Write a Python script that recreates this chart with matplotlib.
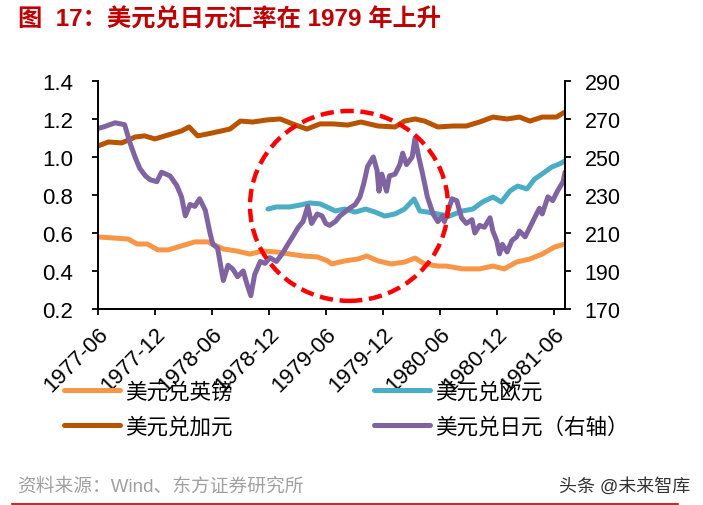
import matplotlib
matplotlib.use("Agg")
import matplotlib.pyplot as plt
from matplotlib.patches import Ellipse
from matplotlib.lines import Line2D

plt.rcParams["font.family"] = ["Liberation Sans", "Noto Sans CJK SC", "DejaVu Sans"]

# -----------------------------------------------------
# Data (x = months after 1977-06)
# -----------------------------------------------------

tick_labels = ["1977-06", "1977-12", "1978-06", "1978-12", "1979-06",
               "1979-12", "1980-06", "1980-12", "1981-06"]

# USD/JPY (right axis)
jpy_m = [0, 0.7, 1.8, 2.8, 3.4, 3.9, 4.4, 5.0, 5.5, 6.2,
         6.7, 7.6, 8.3, 8.8, 9.2, 9.7, 10.2, 10.7, 11.3, 11.8,
         12.1, 12.6, 13.2, 13.7, 14.2, 14.7, 15.3, 15.7, 16.1, 16.5,
         17.1, 17.6, 18.1, 18.8, 19.4, 20.0, 20.5, 21.1, 21.6, 22.1,
         22.5, 23.1, 23.6, 24.0, 24.4, 25.0, 25.5, 26.0, 26.5, 27.1,
         27.6, 28.0, 28.4, 29.0, 29.4, 29.6, 29.9, 30.4, 30.7, 31.3,
         31.8, 32.1, 32.5, 33.1, 33.4, 33.7, 34.2, 34.7, 35.3, 35.8,
         36.3, 36.5, 37.3, 37.8, 38.3, 38.8, 39.4, 39.7, 40.2, 40.7,
         41.3, 41.6, 42.0, 42.3, 42.6, 43.1, 43.6, 44.1, 44.4, 45.0,
         45.5, 46.0, 46.5, 46.8, 47.4, 47.9, 48.4, 49.0, 49.2]
jpy = [265, 266, 268, 267, 257, 250, 244, 240, 238, 237,
       242, 240, 235, 229, 219, 225, 224, 228, 222, 210,
       204, 202, 185, 193, 191, 187, 190, 183, 177, 188,
       195, 194, 197, 195, 199, 204, 208, 213, 216, 224,
       215, 220, 219, 215, 214, 216, 219, 221, 223, 225,
       229, 236, 245, 250, 243, 232, 241, 232, 240, 241,
       246, 252, 246, 250, 260, 252, 241, 229, 220, 216,
       219, 216, 228, 227, 218, 215, 217, 210, 214, 213,
       218, 211, 206, 199, 204, 200, 206, 208, 211, 208,
       213, 218, 223, 220, 229, 227, 232, 237, 242]

# USD/EUR
eur_m = [17.9, 18.8, 20.2, 21.3, 22.3, 23.4, 24.2, 25.0, 26.0, 27.1,
         28.2, 29.2, 30.2, 31.3, 32.3, 33.3, 33.9, 34.7, 35.8, 37.0,
         38.4, 39.5, 40.5, 41.6, 42.5, 43.4, 44.2, 45.2, 46.0, 46.8,
         47.8, 48.6, 49.2]
eur = [0.726, 0.737, 0.737, 0.747, 0.758, 0.753, 0.735, 0.716, 0.726, 0.710,
       0.726, 0.710, 0.689, 0.700, 0.726, 0.779, 0.716, 0.710, 0.700, 0.689,
       0.716, 0.726, 0.763, 0.789, 0.763, 0.821, 0.847, 0.832, 0.884, 0.911,
       0.947, 0.963, 0.979]

# USD/GBP
gbp_m = [0, 1.5, 3.2, 4.1, 5.2, 6.3, 7.4, 8.8, 10.2, 11.6,
         13.2, 14.6, 16.0, 17.4, 18.8, 20.2, 21.6, 23.1, 24.2, 24.6,
         26.0, 27.4, 28.3, 29.5, 30.9, 32.3, 33.4, 34.4, 35.8, 36.7,
         38.4, 40.2, 41.6, 42.8, 44.1, 45.5, 46.8, 48.1, 49.2]
gbp = [0.579, 0.574, 0.568, 0.542, 0.542, 0.511, 0.511, 0.532, 0.553, 0.553,
       0.516, 0.505, 0.489, 0.505, 0.500, 0.489, 0.479, 0.474, 0.453, 0.437,
       0.453, 0.463, 0.479, 0.453, 0.437, 0.447, 0.468, 0.437, 0.426, 0.426,
       0.411, 0.411, 0.426, 0.411, 0.447, 0.463, 0.489, 0.526, 0.542]

# USD/CAD
cad_m = [0, 1.1, 2.5, 3.9, 4.9, 6.0, 7.4, 8.8, 9.6, 10.5,
         12.0, 13.9, 15.0, 16.3, 17.8, 19.2, 20.5, 22.0, 23.4, 24.8,
         26.3, 27.7, 29.5, 31.3, 32.3, 33.4, 34.4, 35.8, 37.4, 38.8,
         40.2, 41.6, 43.1, 44.4, 45.5, 46.8, 48.3, 49.2]
cad = [1.058, 1.079, 1.074, 1.105, 1.111, 1.095, 1.116, 1.137, 1.158, 1.111,
       1.126, 1.147, 1.189, 1.184, 1.195, 1.200, 1.174, 1.147, 1.174, 1.174,
       1.168, 1.184, 1.163, 1.158, 1.189, 1.200, 1.189, 1.158, 1.163, 1.163,
       1.184, 1.210, 1.200, 1.210, 1.189, 1.210, 1.210, 1.237]

# -----------------------------------------------------
# Figure
# -----------------------------------------------------

fig = plt.figure(figsize=(7.03, 5.06), dpi=100)
ax = fig.add_axes([0.1394, 0.3874, 0.6643, 0.4506])
ax2 = ax.twinx()

line_kw = dict(lw=3.6, solid_joinstyle="round", solid_capstyle="round")

l_gbp, = ax.plot(gbp_m, gbp, color="#F79646", label="美元兑英镑", **line_kw)
l_cad, = ax.plot(cad_m, cad, color="#B95300", label="美元兑加元", **line_kw)
l_eur, = ax.plot(eur_m, eur, color="#4BACC6", label="美元兑欧元", **line_kw)
l_jpy, = ax2.plot(jpy_m, jpy, color="#8064A2", label="美元兑日元（右轴）", **line_kw)

ax.set_xlim(0, 49.2)
ax.set_ylim(0.2, 1.4)
ax2.set_ylim(170, 290)

ax.set_xticks(range(0, 49, 6))
ax.set_xticklabels(tick_labels, rotation=45, ha="right", va="top",
                   rotation_mode="anchor")
ax.set_yticks([0.2, 0.4, 0.6, 0.8, 1.0, 1.2, 1.4])
ax.set_yticklabels(["0.2", "0.4", "0.6", "0.8", "1.0", "1.2", "1.4"])
ax2.set_yticks(range(170, 291, 20))

for a in (ax, ax2):
    a.spines["top"].set_visible(False)
    for s in a.spines.values():
        s.set_linewidth(1.3)
ax.tick_params(axis="both", direction="out", length=4, width=1.3,
               labelsize=16)
ax.tick_params(axis="y", pad=14)
ax.tick_params(axis="x", pad=6)
ax2.tick_params(axis="y", direction="out", length=4, width=1.3,
                labelsize=15.5, pad=10)

# dashed circle highlighting 1979
circle = Ellipse((0.5375, 0.452), 0.424, 0.833, transform=ax.transAxes,
                 fill=False, edgecolor="#FF0000", lw=3.2,
                 linestyle=(0, (3, 1.5)), zorder=10, clip_on=False)
ax2.add_patch(circle)

fig.legend([l_gbp, l_cad, l_eur, l_jpy],
           [l_gbp.get_label(), l_cad.get_label(), l_eur.get_label(), l_jpy.get_label()],
           ncol=2, loc="upper left", bbox_to_anchor=(64 / 703, 1 - 383 / 506),
           frameon=False, fontsize=15.5, handlelength=2.6, handletextpad=0.25,
           columnspacing=6.55, labelspacing=0.62, borderpad=0, borderaxespad=0)

fig.text(18 / 703, 1 - 20 / 506, "图  17：美元兑日元汇率在 1979 年上升",
         ha="left", va="center", fontsize=17.5, fontweight="bold", color="#C00000")
fig.text(17 / 703, 1 - 487 / 506, "资料来源：Wind、东方证券研究所",
         ha="left", va="center", fontsize=13.5, color="#A0A0A0")
fig.text(690 / 703, 1 - 487 / 506, "头条 @未来智库",
         ha="right", va="center", fontsize=13, color="#333333")
fig.add_artist(Line2D([12 / 703, 678 / 703], [1 - 505 / 506, 1 - 505 / 506],
                      color="#C00000", lw=1.2))

fig.savefig("out.png", dpi=100)
plt.close(fig)
